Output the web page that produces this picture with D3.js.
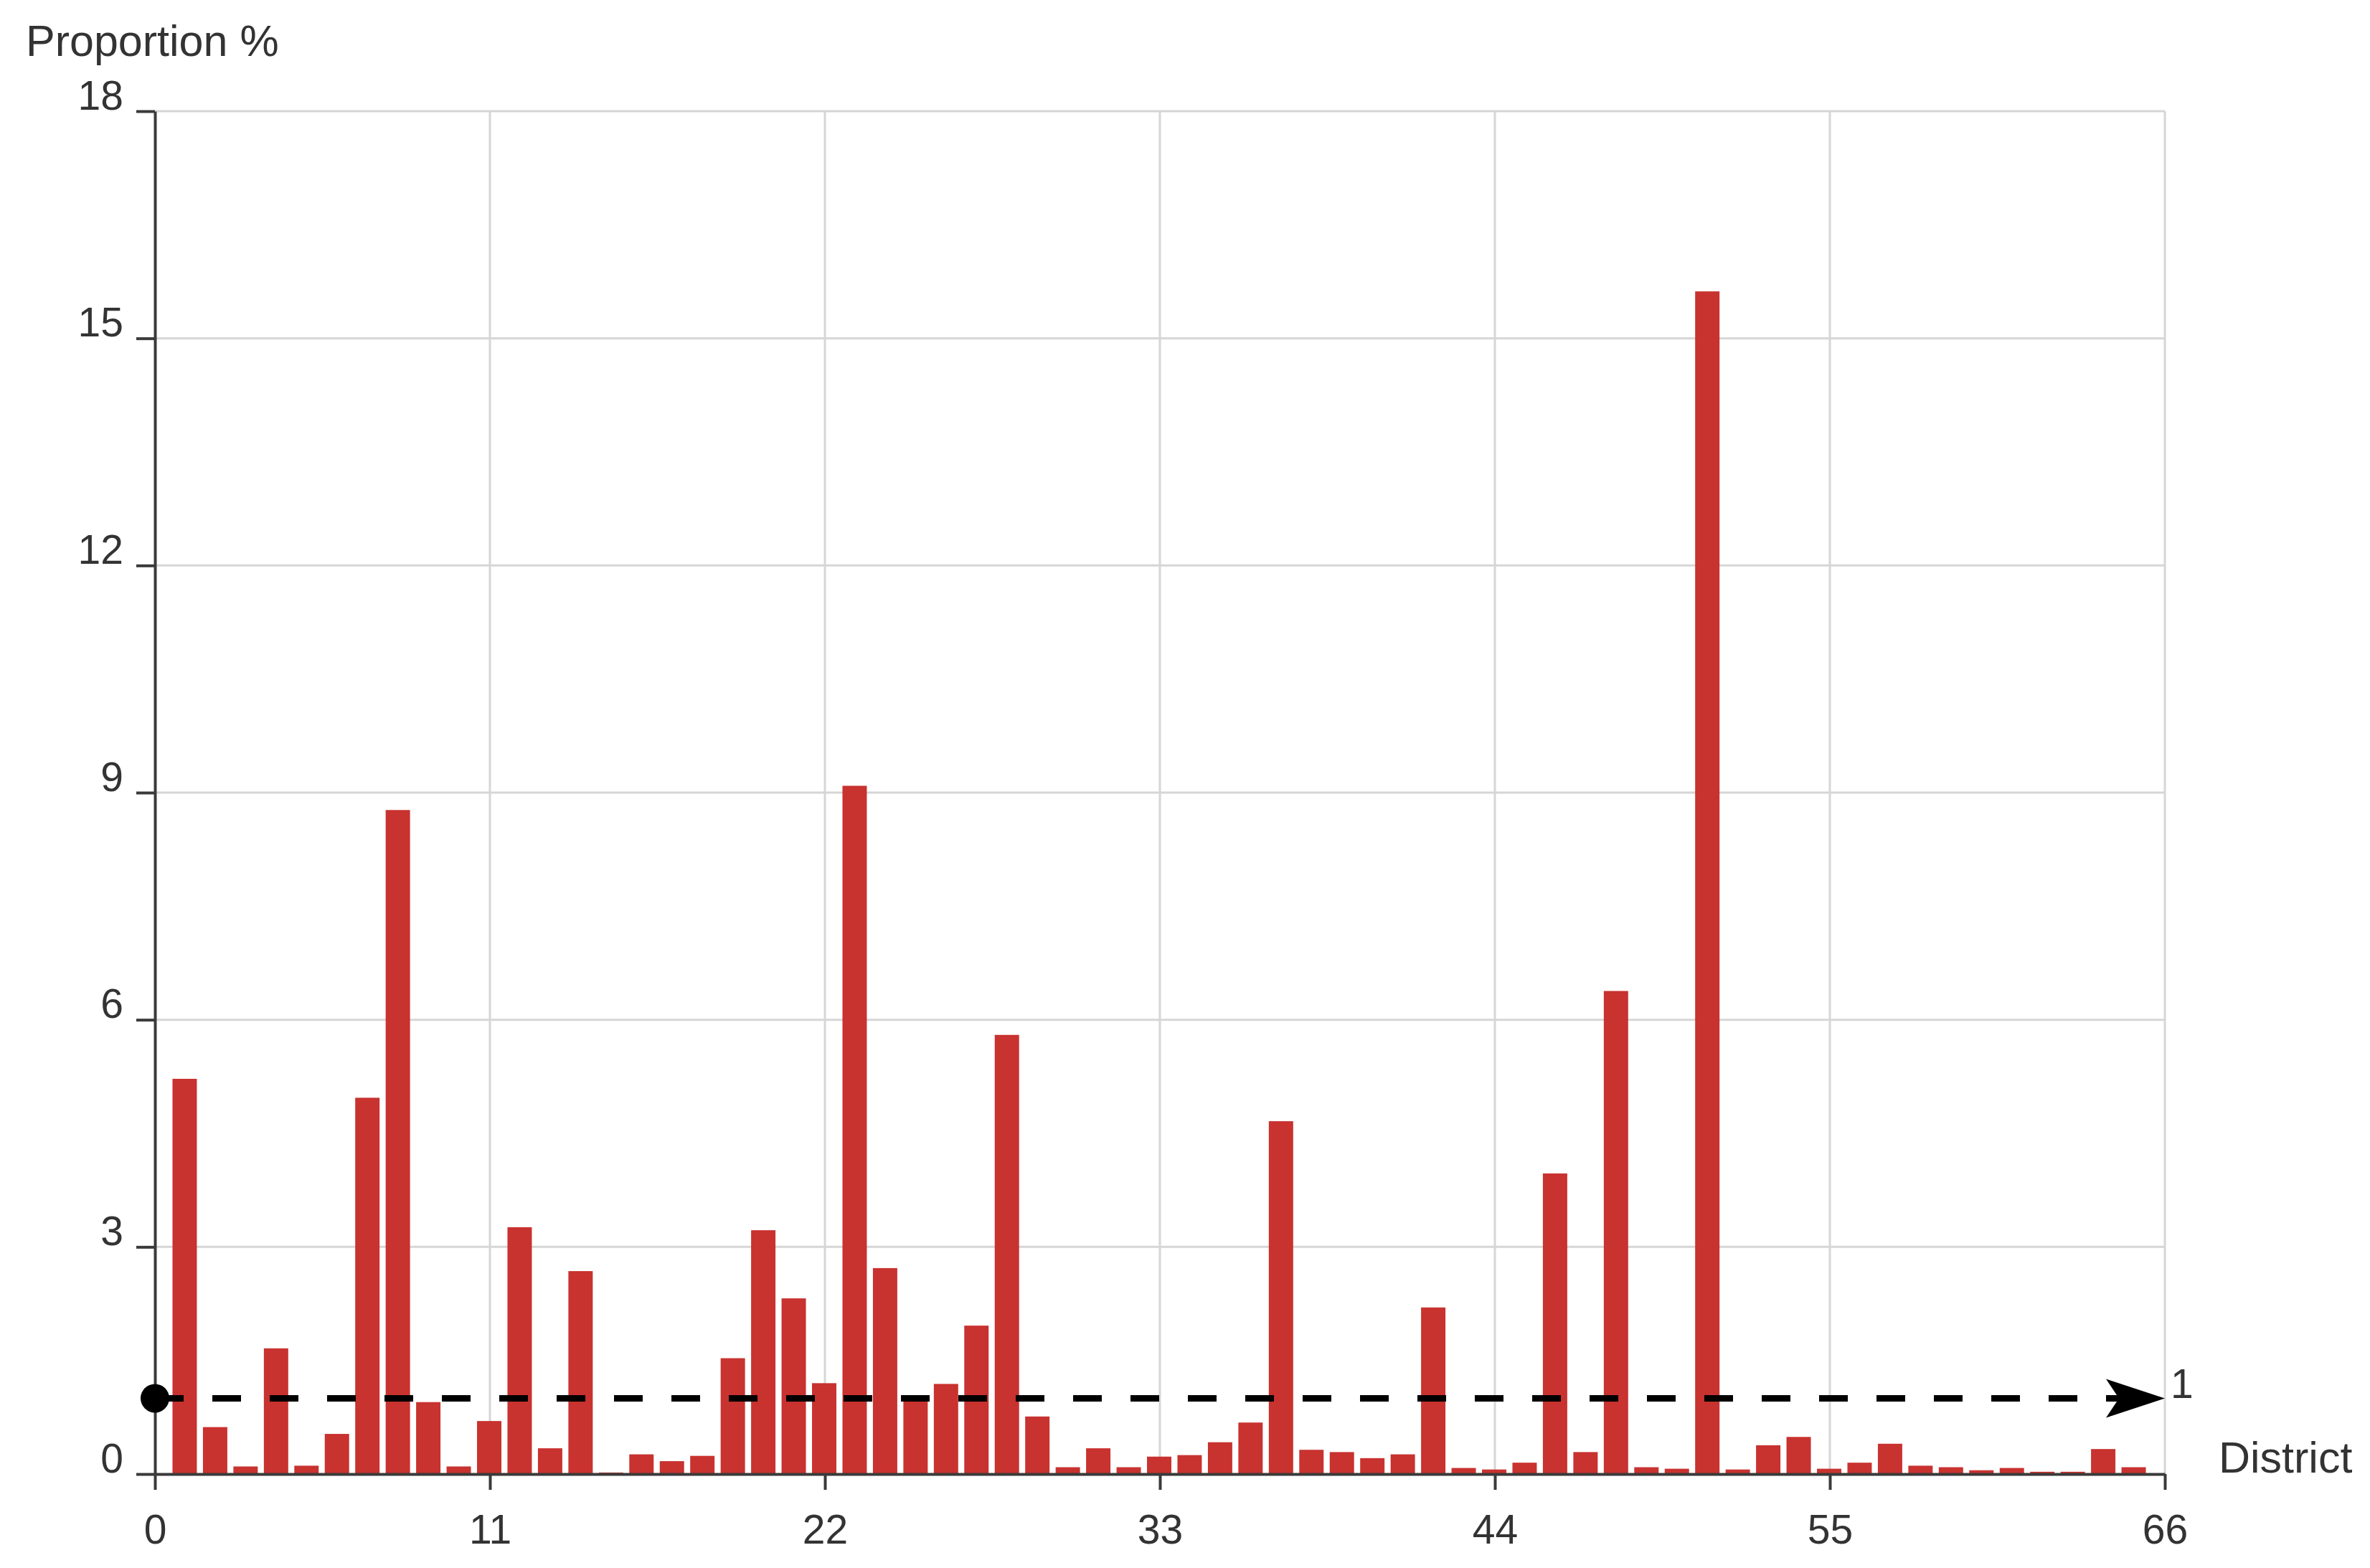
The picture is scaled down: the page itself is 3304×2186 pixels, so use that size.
<!DOCTYPE html>
<html>
<head>
<meta charset="utf-8">
<script src="https://cdn.jsdelivr.net/npm/d3@7"></script>
<style>
    html, body { margin: 0; padding: 0; background: #fff; }
    text { font-family: "Liberation Sans", Arial, sans-serif; fill: #333; }
</style>
</head>
<body>
<script>
// districts 1..65, share of total in %
var districts = d3.range(1, 66);
var proportion = [
    5.22, 0.62, 0.10, 1.66, 0.11, 0.53, 4.97, 8.77, 0.95, 0.10,
    0.70, 3.26, 0.34, 2.68, 0.02, 0.26, 0.17, 0.24, 1.53, 3.22,
    2.32, 1.20, 9.09, 2.72, 0.98, 1.19, 1.96, 5.80, 0.76, 0.09,
    0.34, 0.09, 0.23, 0.25, 0.42, 0.68, 4.66, 0.32, 0.29, 0.21,
    0.26, 2.20, 0.08, 0.06, 0.15, 3.97, 0.29, 6.38, 0.09, 0.07,
    15.62, 0.06, 0.38, 0.49, 0.07, 0.15, 0.40, 0.11, 0.09, 0.05,
    0.08, 0.03, 0.03, 0.33, 0.09
];
var xTicks = [0, 11, 22, 33, 44, 55, 66];
var yTicks = [0, 3, 6, 9, 12, 15, 18];
var refLevel = 1;
var xTitle = "District", yTitle = "Proportion %";

(function drawChart (window, undefined) {
    "use strict";
    var width = 3304,
        height = 2186,
        margin = {top: 155, right: 286, bottom: 131, left: 216},
        barColor = "#c8322f",
        axisColor = "#3a3a3a",
        gridColor = "#d6d6d6",
        tickFont = 57,
        svg, x, y, unit, rows;

    svg = d3.select("body").append("svg")
        .attr("width", width)
        .attr("height", height);

    x = d3.scaleLinear().domain([0, 66]).range([margin.left, width - margin.right]);
    y = d3.scaleLinear().domain([0, 18]).range([height - margin.bottom, margin.top]);
    unit = x(1) - x(0);

    rows = districts.map(function (d, i) { return {district: d, value: proportion[i]}; });

    // grid
    svg.append("g").attr("class", "grid-y")
        .selectAll("line")
        .data(yTicks.filter(function (t) { return t > 0; }))
        .enter().append("line")
        .attr("x1", x(0)).attr("x2", x(66))
        .attr("y1", function (d) { return y(d); })
        .attr("y2", function (d) { return y(d); })
        .attr("stroke", gridColor)
        .attr("stroke-width", 3);

    svg.append("g").attr("class", "grid-x")
        .selectAll("line")
        .data(xTicks.filter(function (t) { return t > 0; }))
        .enter().append("line")
        .attr("x1", function (d) { return x(d); })
        .attr("x2", function (d) { return x(d); })
        .attr("y1", y(0)).attr("y2", y(18))
        .attr("stroke", gridColor)
        .attr("stroke-width", 3);

    // bars
    svg.append("g").attr("class", "bars")
        .selectAll("rect")
        .data(rows)
        .enter().append("rect")
        .attr("x", function (d) { return x(d.district) - unit * 0.4 - 1; })
        .attr("width", unit * 0.8)
        .attr("y", function (d) { return y(d.value); })
        .attr("height", function (d) { return y(0) - y(d.value); })
        .attr("fill", barColor);

    // axes
    var xAxis = svg.append("g")
        .attr("transform", "translate(0," + y(0) + ")")
        .call(d3.axisBottom(x).tickValues(xTicks).tickSize(22).tickSizeOuter(0).tickPadding(35));
    var yAxis = svg.append("g")
        .attr("transform", "translate(" + x(0) + ",0)")
        .call(d3.axisLeft(y).tickValues(yTicks).tickSize(26).tickSizeOuter(0).tickPadding(18));

    [xAxis, yAxis].forEach(function (ax) {
        ax.select(".domain").attr("stroke", axisColor).attr("stroke-width", 4);
        ax.selectAll(".tick line").attr("stroke", axisColor).attr("stroke-width", 4);
        ax.selectAll(".tick text")
            .attr("font-size", tickFont)
            .attr("font-family", "Liberation Sans, Arial, sans-serif")
            .attr("fill", "#333");
    });
    yAxis.selectAll(".tick text").attr("dy", "-0.05em");

    // reference line at 1
    svg.append("line")
        .attr("x1", x(0)).attr("x2", x(66) - 20)
        .attr("y1", y(refLevel)).attr("y2", y(refLevel))
        .attr("stroke", "#000")
        .attr("stroke-width", 9)
        .attr("stroke-dasharray", "40,40");

    svg.append("path")
        .attr("transform", "translate(" + x(66) + "," + y(refLevel) + ")")
        .attr("d", "M0,0L-82,-27L-64,0L-82,27Z")
        .attr("fill", "#000");

    svg.append("circle")
        .attr("cx", x(0)).attr("cy", y(refLevel))
        .attr("r", 20)
        .attr("fill", "#000");

    svg.append("text")
        .attr("x", x(66) + 8)
        .attr("y", y(refLevel))
        .attr("font-size", tickFont)
        .attr("fill", "#111")
        .text(refLevel);

    // titles
    svg.append("text")
        .attr("x", 3093).attr("y", y(0) - 2)
        .attr("font-size", 61)
        .text(xTitle);

    svg.append("text")
        .attr("x", 36).attr("y", 78)
        .attr("font-size", 61)
        .text(yTitle);
})(window);
</script>
</body>
</html>
